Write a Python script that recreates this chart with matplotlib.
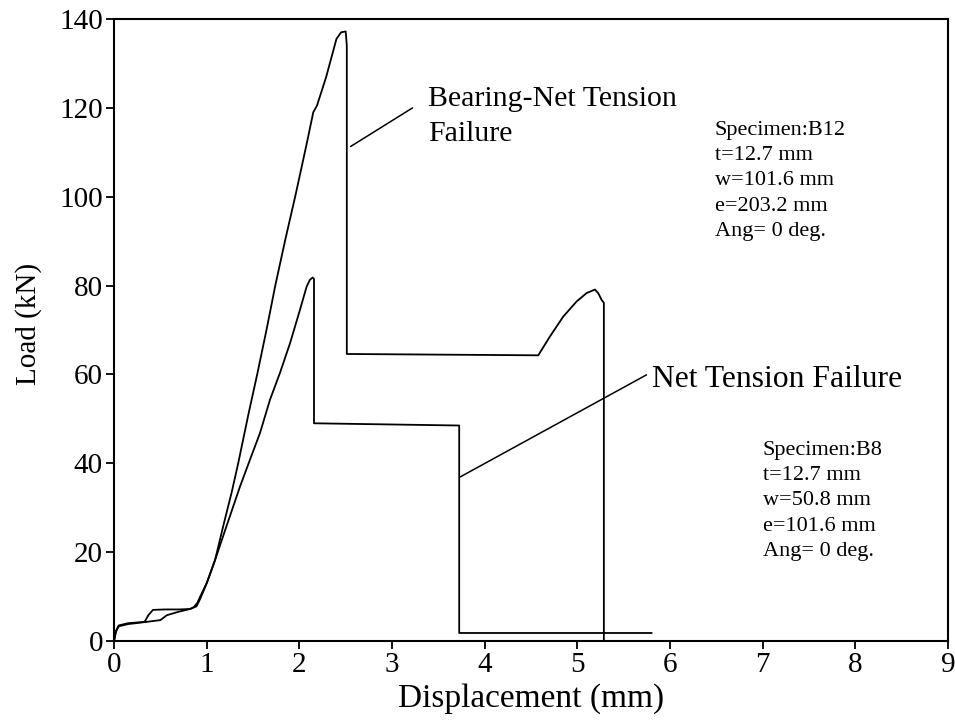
import matplotlib
matplotlib.use("Agg")
import matplotlib.pyplot as plt

plt.rcParams['font.family'] = ['Liberation Serif', 'DejaVu Serif']
plt.rcParams['mathtext.fontset'] = 'stix'

# Specimen B12 (bearing / net-tension failure): displacement (mm), load (kN)
b12_disp = [0.00, 0.02, 0.05, 0.15, 0.35, 0.50, 0.57, 0.70, 0.82, 0.89, 0.93,
            1.00, 1.09, 1.18, 1.27, 1.34, 1.45, 1.55, 1.65, 1.74, 1.85,
            1.96, 2.08, 2.15, 2.19, 2.29, 2.40, 2.45, 2.50,
            2.512, 2.512, 4.578, 4.703, 4.847, 4.991, 5.099, 5.189, 5.225,
            5.261, 5.286, 5.286]
b12_load = [0.0, 2.0, 3.3, 3.8, 4.3, 4.7, 5.8, 6.6, 7.2, 7.8, 9.5,
            13.0, 18.2, 26.0, 33.5, 40.0, 51.0, 60.5, 70.5, 80.0, 90.5,
            100.5, 112.0, 119.0, 120.5, 127.0, 135.5, 137.0, 137.2,
            134.0, 64.6, 64.3, 68.5, 73.0, 76.4, 78.3, 79.1, 78.3,
            76.8, 76.1, 0.3]

# Specimen B8 (net-tension failure)
b8_disp = [0.00, 0.02, 0.05, 0.15, 0.33, 0.37, 0.42, 0.55, 0.70, 0.82, 0.86,
           0.90, 0.93, 1.00, 1.09, 1.20, 1.36, 1.467, 1.575, 1.683, 1.79,
           1.899, 2.006, 2.079, 2.114, 2.143, 2.158, 2.158, 3.725, 3.725,
           5.80]
b8_load = [0.0, 2.2, 3.5, 4.0, 4.3, 5.8, 7.0, 7.1, 7.1, 7.2, 7.6,
           8.6, 10.0, 13.0, 18.2, 25.0, 34.8, 40.8, 46.8, 54.3, 60.3,
           67.0, 74.5, 79.8, 81.3, 81.8, 81.5, 49.0, 48.5, 1.8,
           1.8]

x_ticks = [0, 1, 2, 3, 4, 5, 6, 7, 8, 9]
y_ticks = [0, 20, 40, 60, 80, 100, 120, 140]

fig = plt.figure(figsize=(9.55, 7.22), dpi=100)
ax = fig.add_axes([0.1194, 0.1122, 0.8733, 0.8615])

ax.plot(b12_disp, b12_load, color='black', lw=1.3, solid_joinstyle='round')
ax.plot(b8_disp, b8_load, color='black', lw=1.3, solid_joinstyle='round')

ax.set_xlim(0, 9)
ax.set_ylim(0, 140)
ax.set_xticks(x_ticks)
ax.set_yticks(y_ticks)
ax.tick_params(direction='out', length=6, width=1.3, labelsize=21, pad=2,
               colors='black')
for sp in ax.spines.values():
    sp.set_linewidth(1.5)

ax.set_xlabel('Displacement (mm)', fontsize=24, labelpad=4)
ax.set_ylabel('Load (kN)', fontsize=21, labelpad=12)
ax.yaxis.set_label_coords(-0.086, 0.51)

# Failure-mode callouts with leader lines
ax.text(3.387, 118.0, 'Bearing-Net Tension\nFailure', fontsize=21.5,
        ha='left', va='center', linespacing=1.45)
ax.annotate('', xy=(2.553, 111.3), xytext=(3.222, 120.0),
            arrowprops=dict(arrowstyle='-', lw=1.1, color='black',
                            shrinkA=0, shrinkB=0))

ax.text(5.804, 58.8, 'Net Tension Failure', fontsize=22.8,
        ha='left', va='center')
ax.annotate('', xy=(3.733, 36.9), xytext=(5.746, 59.9),
            arrowprops=dict(arrowstyle='-', lw=1.1, color='black',
                            shrinkA=0, shrinkB=0))

# Specimen descriptions
ax.text(6.483, 117.0,
        'Specimen:B12\nt=12.7 mm\nw=101.6 mm\ne=203.2 mm\nAng= 0 deg.',
        fontsize=16, ha='left', va='top', linespacing=1.44)
ax.text(7.0, 45.0,
        'Specimen:B8\nt=12.7 mm\nw=50.8 mm\ne=101.6 mm\nAng= 0 deg.',
        fontsize=16, ha='left', va='top', linespacing=1.44)

fig.savefig('out.png', dpi=100)
